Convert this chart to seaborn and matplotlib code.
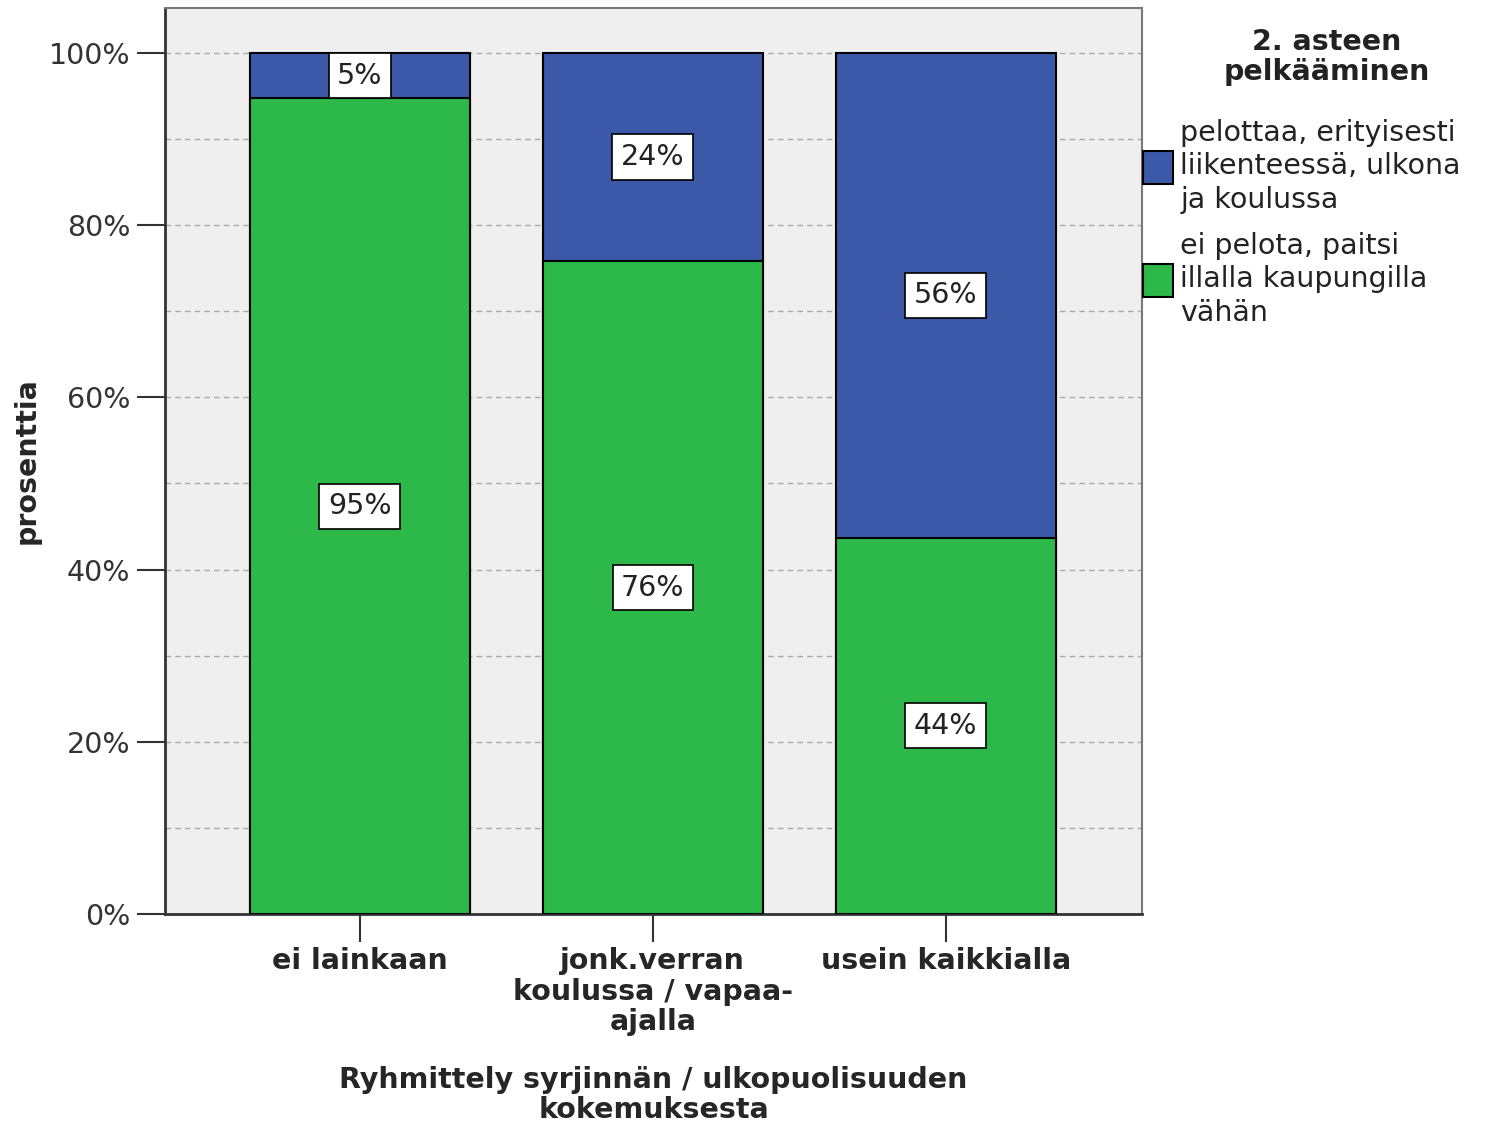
import pandas as pd
import matplotlib.pyplot as plt
import seaborn as sns

categories = ['ei lainkaan', 'jonk.verran\nkoulussa / vapaa-\najalla', 'usein kaikkialla']
green_vals = [94.7, 75.8, 43.7]   # ei pelota, paitsi illalla kaupungilla vähän
blue_vals = [5.3, 24.2, 56.3]     # pelottaa, erityisesti liikenteessä, ulkona ja koulussa
series_names = ['pelottaa, erityisesti\nliikenteessä, ulkona\nja koulussa',
                'ei pelota, paitsi\nillalla kaupungilla\nvähän']
yticks = [0, 20, 40, 60, 80, 100]
ytick_labels = ['0%', '20%', '40%', '60%', '80%', '100%']

blue = '#3c58a8'
green = '#2db84a'
fs = 20.5

df = pd.DataFrame({'cat': categories, 'green': green_vals, 'blue': blue_vals})
df['total'] = df['green'] + df['blue']

sns.set_style('white')
plt.rcParams['font.family'] = ['DejaVu Sans']

fig = plt.figure(figsize=(15.1, 11.32), dpi=100)
ax = fig.add_axes([0.1093, 0.1926, 0.647, 0.8003])
ax.set_facecolor('#efefef')

sns.barplot(data=df, x='cat', y='total', color=blue, saturation=1, width=0.75,
            edgecolor='black', linewidth=1.5, ax=ax, zorder=3)
sns.barplot(data=df, x='cat', y='green', color=green, saturation=1, width=0.75,
            edgecolor='black', linewidth=1.5, ax=ax, zorder=3)

for i in range(len(categories)):
    g = df['green'][i]
    b = df['blue'][i]
    for y, v in [(g / 2, g), (g + b / 2, b)]:
        ax.text(i, y, f'{v:.0f}%', ha='center', va='center', fontsize=fs, zorder=5,
                color='#222222',
                bbox=dict(boxstyle='square,pad=0.3', fc='white', ec='black', lw=1.2))

ax.set_xlim(-0.665, 2.67)
ax.set_ylim(0, 105.2)
for gy in range(10, 101, 10):
    ax.axhline(gy, color='#a8a8a8', ls=(0, (4, 3)), lw=1, zorder=1)

ax.set_yticks(yticks)
ax.set_yticklabels(ytick_labels, fontsize=fs, color='#333333')
ax.tick_params(axis='y', length=20, width=1.5, color='#333333', pad=5, left=True)
ax.tick_params(axis='x', length=20, width=1.5, color='#333333', pad=4, bottom=True)
for lab in ax.get_xticklabels():
    lab.set_fontsize(fs)
    lab.set_fontweight('bold')
    lab.set_linespacing(1.1)

ax.set_xlabel('Ryhmittely syrjinnän / ulkopuolisuuden\nkokemuksesta', fontsize=fs,
              fontweight='bold', labelpad=22, linespacing=1.1)
ax.set_ylabel('prosenttia', fontsize=fs, fontweight='bold', labelpad=6)

for side in ['left', 'bottom']:
    ax.spines[side].set_color('#333333')
    ax.spines[side].set_linewidth(2)
for side in ['top', 'right']:
    ax.spines[side].set_color('#7a7a7a')
    ax.spines[side].set_linewidth(1.5)

# legend title drawn separately so its spacing can follow the original
fig.text(1327 / 1510, 1 - 57 / 1132, '2. asteen\npelkääminen', ha='center', va='center',
         fontsize=fs, fontweight='bold', color='#222222', linespacing=1.05)

handles = [plt.Rectangle((0, 0), 1, 1, fc=blue, ec='black', lw=1.5),
           plt.Rectangle((0, 0), 1, 1, fc=green, ec='black', lw=1.5)]
leg = fig.legend(handles, series_names, loc='upper left', bbox_to_anchor=(0.757, 0.895),
                 frameon=False, fontsize=fs,
                 handlelength=1.05, handleheight=1.4, handletextpad=0.25,
                 labelspacing=0.62, borderpad=0.0, borderaxespad=0)
for t in leg.get_texts():
    t.set_linespacing(1.25)
    t.set_color('#222222')

fig.savefig('out.png', dpi=100)
